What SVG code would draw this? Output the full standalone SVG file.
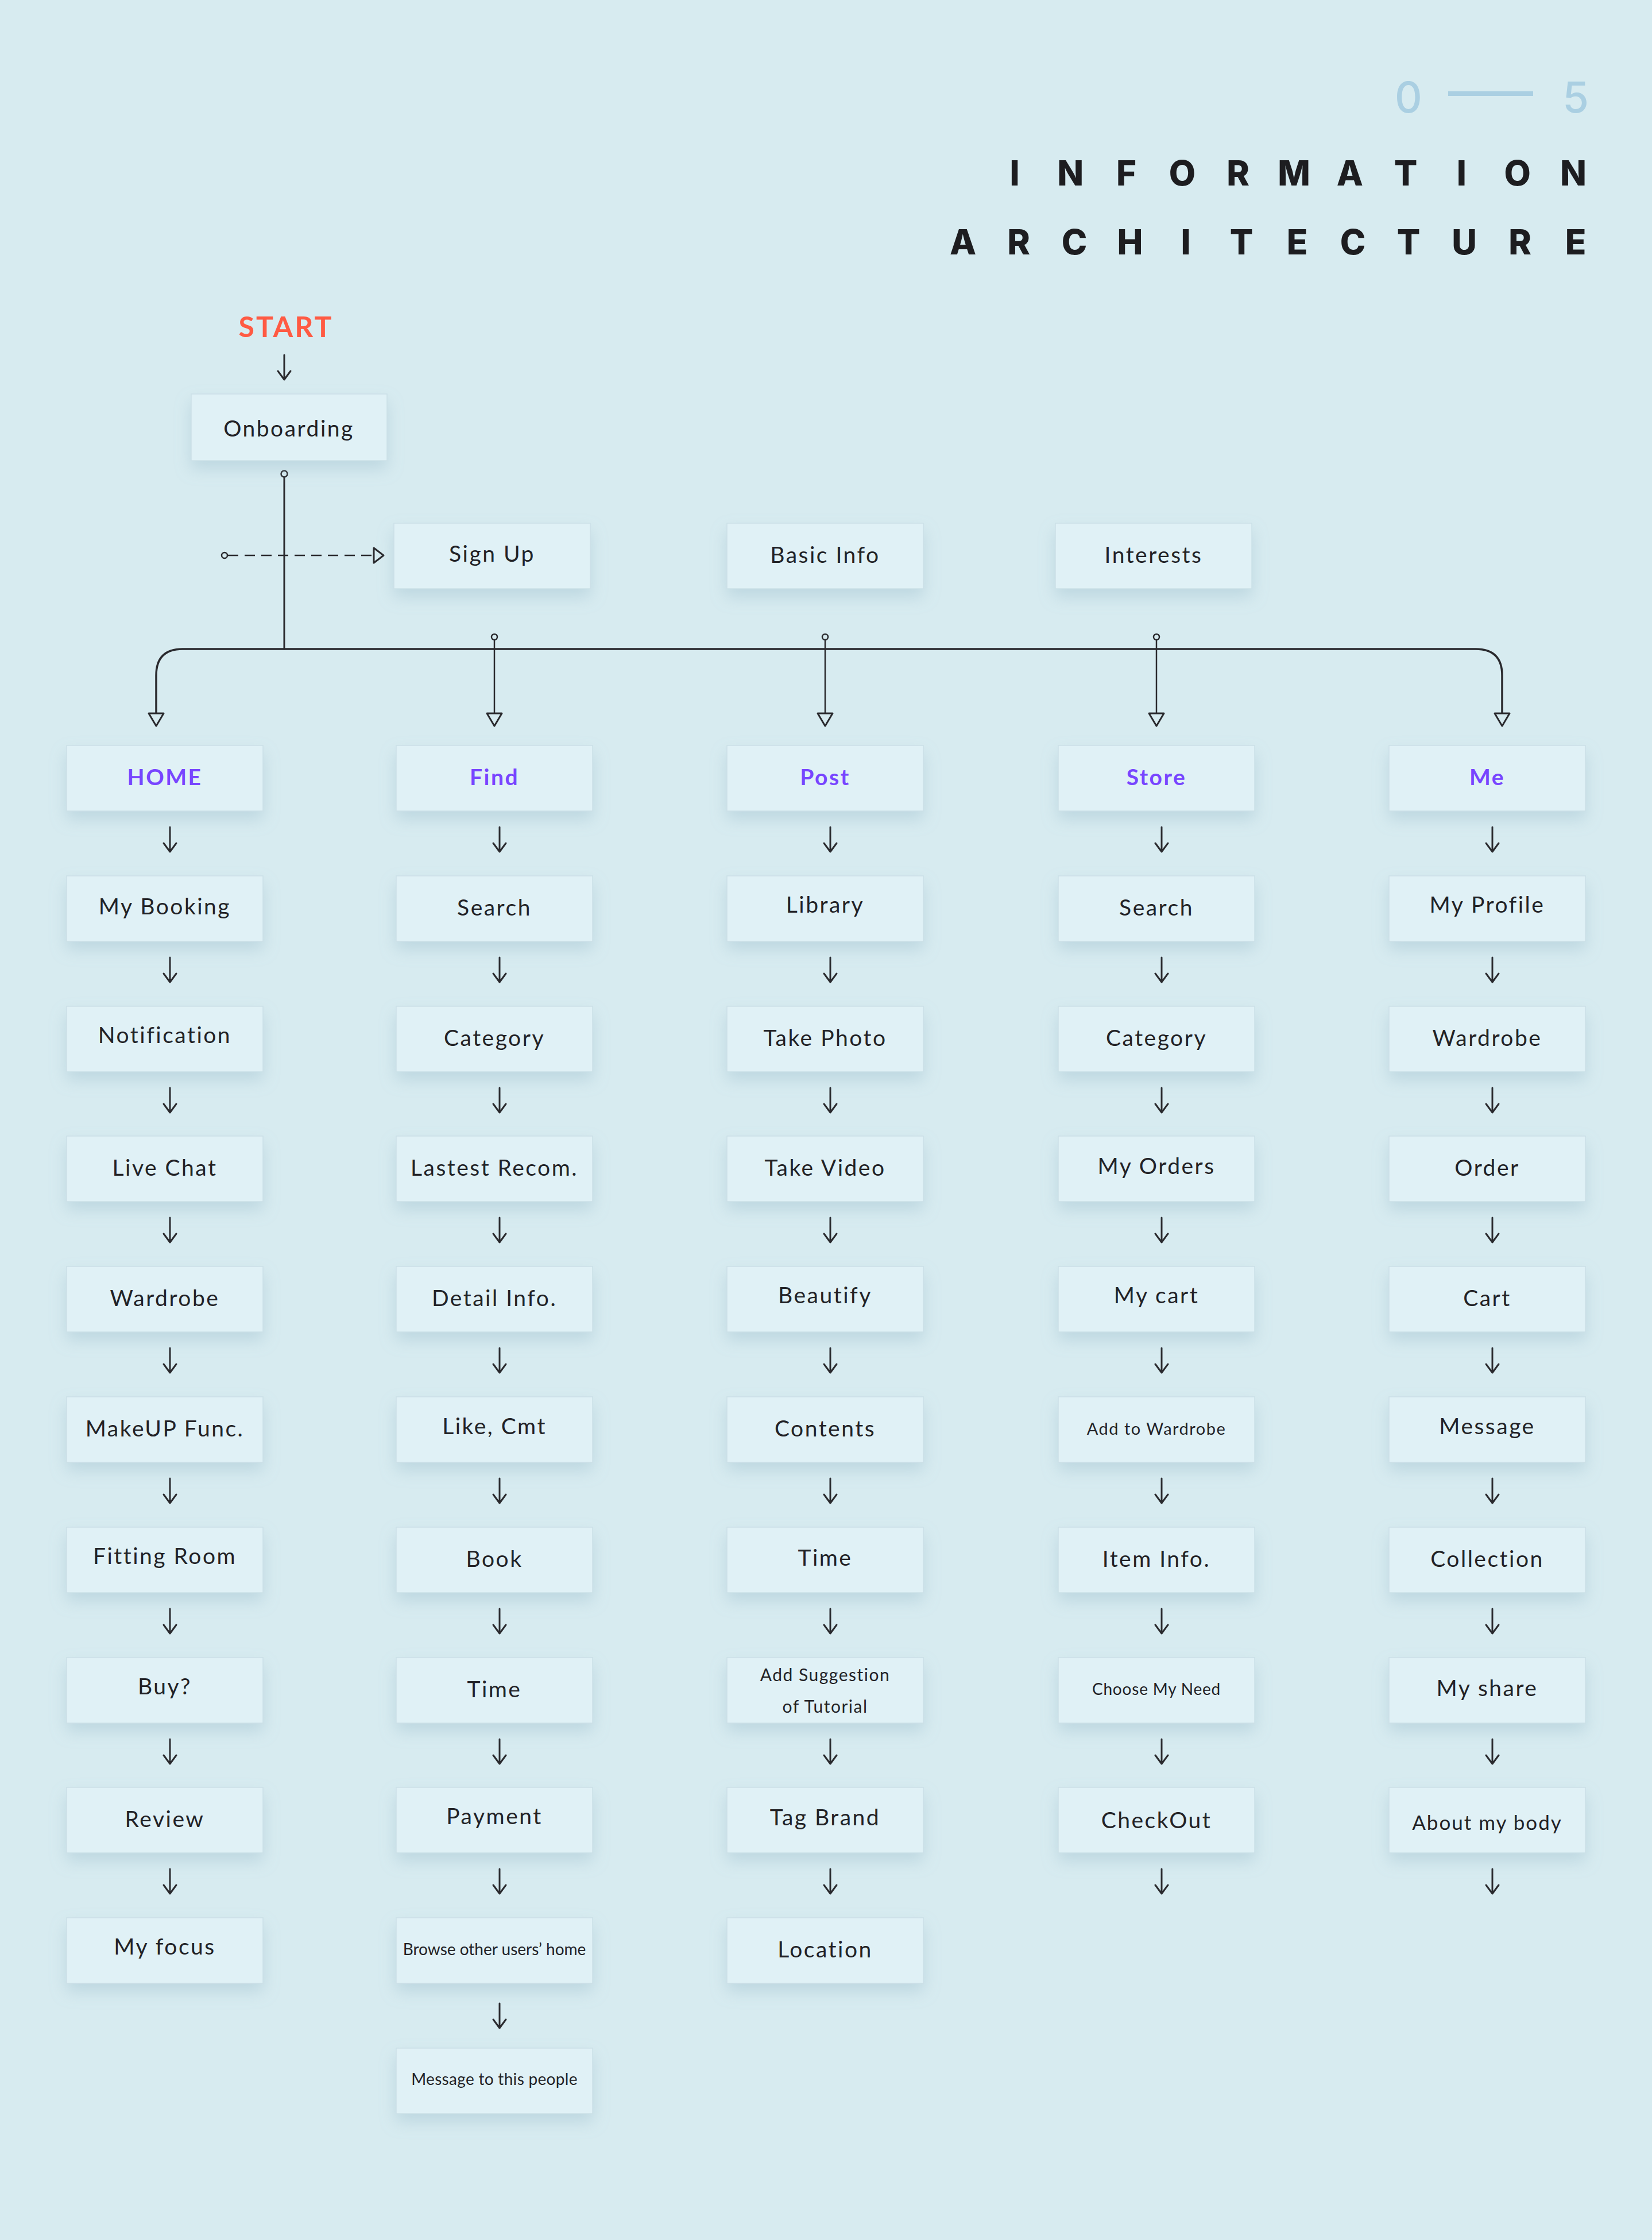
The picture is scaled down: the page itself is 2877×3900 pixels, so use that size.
<svg xmlns="http://www.w3.org/2000/svg" xmlns:xlink="http://www.w3.org/1999/xlink" width="2877" height="3900" viewBox="0 0 2877 3900">
<defs>
<style>
.bg{fill:#d7ebf0}
.box{fill:#e0f1f6;stroke:#cbe0e7;stroke-width:1.5;filter:url(#sh)}
.t{font-family:Lato,"Open Sans","Liberation Sans",sans-serif;font-size:39px;letter-spacing:2.5px;fill:#222226;text-anchor:middle}
.s{font-size:29px;letter-spacing:1.5px}
.h{font-weight:700;fill:#7845ff}
.ttl{font-family:Inter,"Liberation Sans",sans-serif;font-weight:800;font-size:60px;fill:#1d1d20;text-anchor:middle}
.num{font-family:Inter,"Liberation Sans",sans-serif;font-weight:500;font-size:74px;fill:#aacfe2;text-anchor:middle}
.ln{fill:none;stroke:#2a2a2e;stroke-width:3;stroke-linecap:round;stroke-linejoin:round}
.thin{stroke-width:2.5}
.dash{stroke-dasharray:18 11;stroke-linecap:butt}
.head{fill:#d7ebf0;stroke:#2a2a2e;stroke-width:3;stroke-linejoin:round}
.dot{fill:#d7ebf0;stroke:#2a2a2e;stroke-width:2.5}
</style>
<filter id="sh" x="-20%" y="-20%" width="140%" height="190%">
<feDropShadow dx="0" dy="14" stdDeviation="14" flood-color="#8fb4c3" flood-opacity="0.35"/>
</filter>
<path id="dn" class="ln" d="M0,0 V43 M-11,28 L0,43 L11,28"/>
</defs>
<rect class="bg" x="0" y="0" width="2877" height="3900"/>

<g id="title">
<text class="num" x="2453" y="196">0</text>
<line x1="2522" y1="163" x2="2670" y2="163" stroke="#aacfe2" stroke-width="8"/>
<text class="num" x="2744" y="196">5</text>
<text class="ttl" x="1767 1864.3 1961.6 2058.9 2156.2 2253.5 2350.8 2448.1 2545.4 2642.7 2740" y="323">INFORMATION</text>
<text class="ttl" x="1677 1774 1871 1968 2065 2162 2259 2356 2453 2550 2647 2744" y="443">ARCHITECTURE</text>
</g>

<g id="start">
<text x="498" y="587" style="font-family:Lato,'Open Sans','Liberation Sans',sans-serif;font-weight:700;font-size:50px;letter-spacing:3px;fill:#ff5a43;text-anchor:middle">START</text>
</g>

<g id="connectors">
<use href="#dn" x="495" y="618"/>
<circle class="dot" cx="495" cy="825" r="5.5"/>
<line class="ln" x1="495" y1="831" x2="495" y2="1130"/>
<circle class="dot" cx="391" cy="967" r="5"/>
<line class="ln thin dash" x1="397" y1="967" x2="651" y2="967"/>
<path class="head" d="M651,954 L668,967 L651,980 Z"/>
<path class="ln" style="stroke-width:3.5" d="M272,1242 V1176 Q272,1130 318,1130 H2570 Q2616,1130 2616,1176 V1242"/>
<path class="head" d="M259,1242 H285 L272,1264 Z"/>
<path class="head" d="M2603,1242 H2629 L2616,1264 Z"/>
<circle class="dot" cx="861" cy="1109" r="5"/>
<line class="ln thin" x1="861" y1="1114" x2="861" y2="1242"/>
<path class="head" d="M848,1242 H874 L861,1264 Z"/>
<circle class="dot" cx="1437" cy="1109" r="5"/>
<line class="ln thin" x1="1437" y1="1114" x2="1437" y2="1242"/>
<path class="head" d="M1424,1242 H1450 L1437,1264 Z"/>
<circle class="dot" cx="2014" cy="1109" r="5"/>
<line class="ln thin" x1="2014" y1="1114" x2="2014" y2="1242"/>
<path class="head" d="M2001,1242 H2027 L2014,1264 Z"/>

<!-- HOME column arrows -->
<use href="#dn" x="296" y="1440"/><use href="#dn" x="296" y="1667"/><use href="#dn" x="296" y="1894"/>
<use href="#dn" x="296" y="2120"/><use href="#dn" x="296" y="2347"/><use href="#dn" x="296" y="2574"/>
<use href="#dn" x="296" y="2801"/><use href="#dn" x="296" y="3028"/><use href="#dn" x="296" y="3254"/>
<!-- Find column arrows -->
<use href="#dn" x="870" y="1440"/><use href="#dn" x="870" y="1667"/><use href="#dn" x="870" y="1894"/>
<use href="#dn" x="870" y="2120"/><use href="#dn" x="870" y="2347"/><use href="#dn" x="870" y="2574"/>
<use href="#dn" x="870" y="2801"/><use href="#dn" x="870" y="3028"/><use href="#dn" x="870" y="3254"/>
<use href="#dn" x="870" y="3488"/>
<!-- Post column arrows -->
<use href="#dn" x="1446" y="1440"/><use href="#dn" x="1446" y="1667"/><use href="#dn" x="1446" y="1894"/>
<use href="#dn" x="1446" y="2120"/><use href="#dn" x="1446" y="2347"/><use href="#dn" x="1446" y="2574"/>
<use href="#dn" x="1446" y="2801"/><use href="#dn" x="1446" y="3028"/><use href="#dn" x="1446" y="3254"/>
<!-- Store column arrows -->
<use href="#dn" x="2023" y="1440"/><use href="#dn" x="2023" y="1667"/><use href="#dn" x="2023" y="1894"/>
<use href="#dn" x="2023" y="2120"/><use href="#dn" x="2023" y="2347"/><use href="#dn" x="2023" y="2574"/>
<use href="#dn" x="2023" y="2801"/><use href="#dn" x="2023" y="3028"/><use href="#dn" x="2023" y="3254"/>
<!-- Me column arrows -->
<use href="#dn" x="2599" y="1440"/><use href="#dn" x="2599" y="1667"/><use href="#dn" x="2599" y="1894"/>
<use href="#dn" x="2599" y="2120"/><use href="#dn" x="2599" y="2347"/><use href="#dn" x="2599" y="2574"/>
<use href="#dn" x="2599" y="2801"/><use href="#dn" x="2599" y="3028"/><use href="#dn" x="2599" y="3254"/>
</g>

<g id="onboarding"><rect class="box" x="333" y="686" width="341" height="116"/><text class="t" x="503" y="760">Onboarding</text></g>
<g id="signup"><rect class="box" x="686" y="911" width="342" height="114"/><text class="t" x="857" y="978">Sign Up</text></g>
<g id="basicinfo"><rect class="box" x="1266" y="911" width="342" height="114"/><text class="t" x="1437" y="980">Basic Info</text></g>
<g id="interests"><rect class="box" x="1838" y="911" width="342" height="114"/><text class="t" x="2009" y="980">Interests</text></g>

<!-- HOME column -->
<g id="home"><rect class="box" x="116" y="1298" width="342" height="114"/><text class="t h" x="287" y="1367">HOME</text></g>
<g id="mybooking"><rect class="box" x="116" y="1525" width="342" height="114"/><text class="t" x="287" y="1592">My Booking</text></g>
<g id="notification"><rect class="box" x="116" y="1752" width="342" height="114"/><text class="t" x="287" y="1816">Notification</text></g>
<g id="livechat"><rect class="box" x="116" y="1978" width="342" height="114"/><text class="t" x="287" y="2047">Live Chat</text></g>
<g id="wardrobe1"><rect class="box" x="116" y="2205" width="342" height="114"/><text class="t" x="287" y="2274">Wardrobe</text></g>
<g id="makeup"><rect class="box" x="116" y="2432" width="342" height="114"/><text class="t" x="287" y="2501">MakeUP Func.</text></g>
<g id="fittingroom"><rect class="box" x="116" y="2659" width="342" height="114"/><text class="t" x="287" y="2723">Fitting Room</text></g>
<g id="buy"><rect class="box" x="116" y="2886" width="342" height="114"/><text class="t" x="287" y="2950">Buy?</text></g>
<g id="review"><rect class="box" x="116" y="3112" width="342" height="114"/><text class="t" x="287" y="3181">Review</text></g>
<g id="myfocus"><rect class="box" x="116" y="3339" width="342" height="114"/><text class="t" x="287" y="3403">My focus</text></g>

<!-- Find column -->
<g id="find"><rect class="box" x="690" y="1298" width="342" height="114"/><text class="t h" x="861" y="1367">Find</text></g>
<g id="search1"><rect class="box" x="690" y="1525" width="342" height="114"/><text class="t" x="861" y="1594">Search</text></g>
<g id="category1"><rect class="box" x="690" y="1752" width="342" height="114"/><text class="t" x="861" y="1821">Category</text></g>
<g id="lastest"><rect class="box" x="690" y="1978" width="342" height="114"/><text class="t" x="861" y="2047">Lastest Recom.</text></g>
<g id="detailinfo"><rect class="box" x="690" y="2205" width="342" height="114"/><text class="t" x="861" y="2274">Detail Info.</text></g>
<g id="likecmt"><rect class="box" x="690" y="2432" width="342" height="114"/><text class="t" x="861" y="2497">Like, Cmt</text></g>
<g id="book"><rect class="box" x="690" y="2659" width="342" height="114"/><text class="t" x="861" y="2728">Book</text></g>
<g id="time1"><rect class="box" x="690" y="2886" width="342" height="114"/><text class="t" x="861" y="2955">Time</text></g>
<g id="payment"><rect class="box" x="690" y="3112" width="342" height="114"/><text class="t" x="861" y="3176">Payment</text></g>
<g id="browse"><rect class="box" x="690" y="3339" width="342" height="114"/><text class="t s" style="font-size:28px;letter-spacing:0" x="861" y="3404">Browse other users’ home</text></g>
<g id="messagepeople"><rect class="box" x="690" y="3566" width="342" height="114"/><text class="t s" style="font-size:28px;letter-spacing:0.3px" x="861" y="3630">Message to this people</text></g>

<!-- Post column -->
<g id="post"><rect class="box" x="1266" y="1298" width="342" height="114"/><text class="t h" x="1437" y="1367">Post</text></g>
<g id="library"><rect class="box" x="1266" y="1525" width="342" height="114"/><text class="t" x="1437" y="1589">Library</text></g>
<g id="takephoto"><rect class="box" x="1266" y="1752" width="342" height="114"/><text class="t" x="1437" y="1821">Take Photo</text></g>
<g id="takevideo"><rect class="box" x="1266" y="1978" width="342" height="114"/><text class="t" x="1437" y="2047">Take Video</text></g>
<g id="beautify"><rect class="box" x="1266" y="2205" width="342" height="114"/><text class="t" x="1437" y="2269">Beautify</text></g>
<g id="contents"><rect class="box" x="1266" y="2432" width="342" height="114"/><text class="t" x="1437" y="2501">Contents</text></g>
<g id="time2"><rect class="box" x="1266" y="2659" width="342" height="114"/><text class="t" x="1437" y="2726">Time</text></g>
<g id="addsuggestion"><rect class="box" x="1266" y="2886" width="342" height="114"/><text class="t s" style="font-size:30px" x="1437" y="2927">Add Suggestion</text><text class="t s" style="font-size:30px" x="1437" y="2982">of Tutorial</text></g>
<g id="tagbrand"><rect class="box" x="1266" y="3112" width="342" height="114"/><text class="t" x="1437" y="3178">Tag Brand</text></g>
<g id="location"><rect class="box" x="1266" y="3339" width="342" height="114"/><text class="t" x="1437" y="3408">Location</text></g>

<!-- Store column -->
<g id="store"><rect class="box" x="1843" y="1298" width="342" height="114"/><text class="t h" x="2014" y="1367">Store</text></g>
<g id="search2"><rect class="box" x="1843" y="1525" width="342" height="114"/><text class="t" x="2014" y="1594">Search</text></g>
<g id="category2"><rect class="box" x="1843" y="1752" width="342" height="114"/><text class="t" x="2014" y="1821">Category</text></g>
<g id="myorders"><rect class="box" x="1843" y="1978" width="342" height="114"/><text class="t" x="2014" y="2044">My Orders</text></g>
<g id="mycart"><rect class="box" x="1843" y="2205" width="342" height="114"/><text class="t" x="2014" y="2269">My cart</text></g>
<g id="addtowardrobe"><rect class="box" x="1843" y="2432" width="342" height="114"/><text class="t s" x="2014" y="2498">Add to Wardrobe</text></g>
<g id="iteminfo"><rect class="box" x="1843" y="2659" width="342" height="114"/><text class="t" x="2014" y="2728">Item Info.</text></g>
<g id="choosemyneed"><rect class="box" x="1843" y="2886" width="342" height="114"/><text class="t s" style="font-size:28px;letter-spacing:0.8px" x="2014" y="2951">Choose My Need</text></g>
<g id="checkout"><rect class="box" x="1843" y="3112" width="342" height="114"/><text class="t" x="2014" y="3183">CheckOut</text></g>

<!-- Me column -->
<g id="me"><rect class="box" x="2419" y="1298" width="342" height="114"/><text class="t h" x="2590" y="1367">Me</text></g>
<g id="myprofile"><rect class="box" x="2419" y="1525" width="342" height="114"/><text class="t" x="2590" y="1589">My Profile</text></g>
<g id="wardrobe2"><rect class="box" x="2419" y="1752" width="342" height="114"/><text class="t" x="2590" y="1821">Wardrobe</text></g>
<g id="order"><rect class="box" x="2419" y="1978" width="342" height="114"/><text class="t" x="2590" y="2047">Order</text></g>
<g id="cart"><rect class="box" x="2419" y="2205" width="342" height="114"/><text class="t" x="2590" y="2274">Cart</text></g>
<g id="message"><rect class="box" x="2419" y="2432" width="342" height="114"/><text class="t" x="2590" y="2497">Message</text></g>
<g id="collection"><rect class="box" x="2419" y="2659" width="342" height="114"/><text class="t" x="2590" y="2728">Collection</text></g>
<g id="myshare"><rect class="box" x="2419" y="2886" width="342" height="114"/><text class="t" x="2590" y="2953">My share</text></g>
<g id="aboutmybody"><rect class="box" x="2419" y="3112" width="342" height="114"/><text class="t" style="font-size:35px;letter-spacing:2px" x="2590" y="3186">About my body</text></g>
</svg>
